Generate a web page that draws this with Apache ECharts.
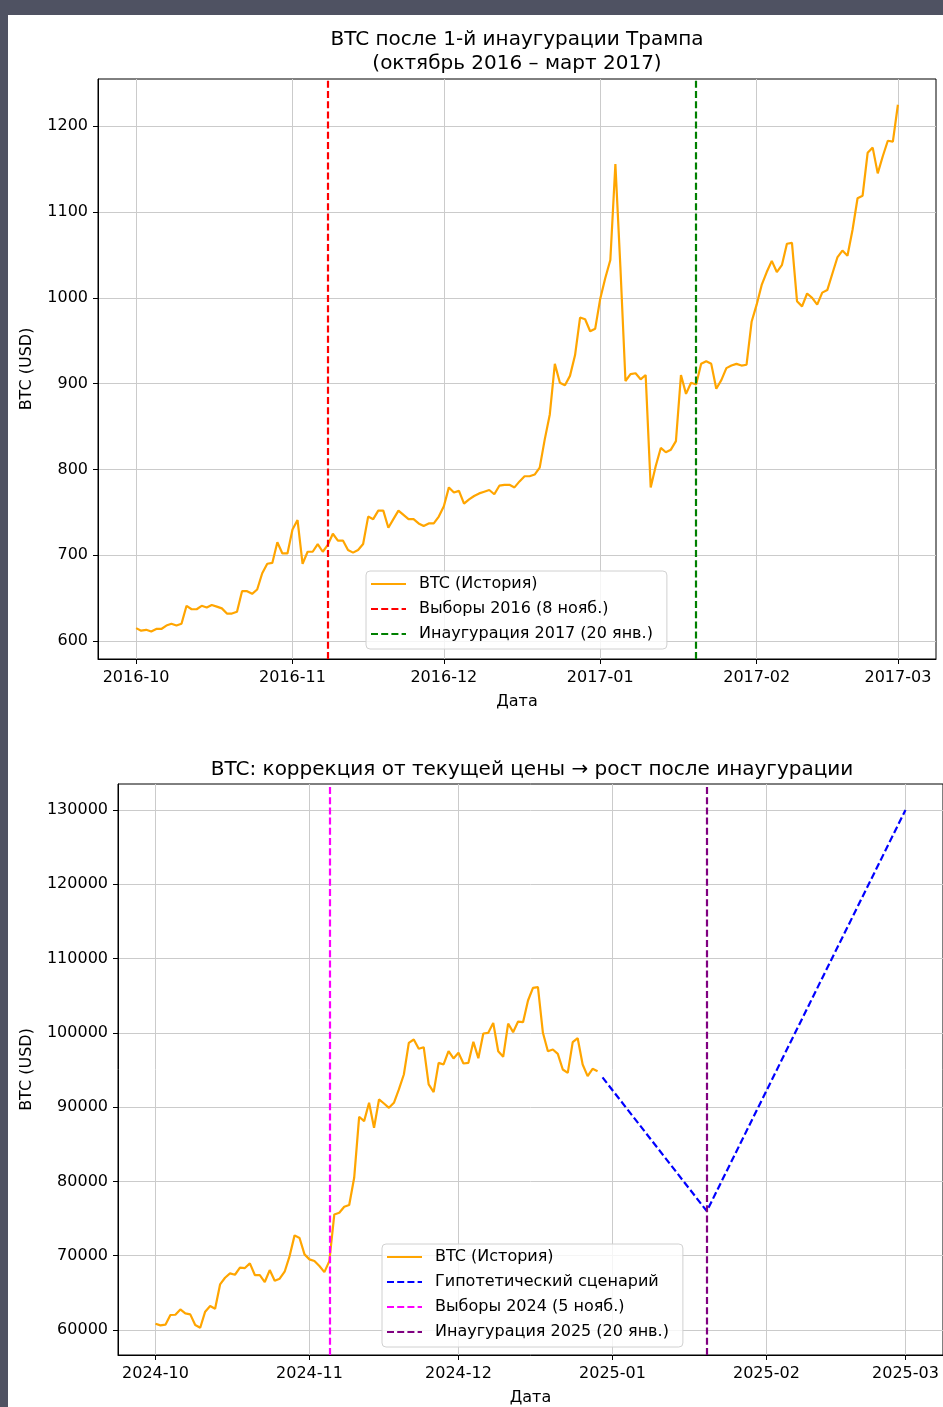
<!DOCTYPE html>
<html>
<head>
<meta charset="utf-8">
<title>BTC</title>
<script src="https://cdn.jsdelivr.net/npm/echarts@6/dist/echarts.min.js"></script>
<style>
html, body { margin: 0; padding: 0; background: #4f5262; }
#chart { position: absolute; left: 8px; top: 15px; width: 935px; height: 1392px; background: #fff; }
</style>
</head>
<body>
<div id="chart"></div>
<script>
// ---- данные: 2016/2017 (ежедневно с 1 окт. 2016 по 1 мар. 2017)
var start2016 = '2016-10-01';
var btc2016 = [
  615, 612, 613, 611, 614, 614, 618, 620, 618, 620,
  641, 637, 637, 641, 639, 642, 640, 638, 632, 632,
  634, 658, 658, 655, 660, 679, 690, 691, 715, 702,
  702, 730, 741, 690, 704, 704, 713, 704, 712, 725,
  717, 717, 706, 703, 706, 713, 745, 742, 752, 752,
  732, 742, 752, 747, 742, 742, 737, 734, 737, 737,
  745, 757, 779, 773, 775, 760, 765, 769, 772, 774,
  776, 771, 781, 782, 782, 779, 786, 792, 792, 794,
  802, 835, 864, 923, 901, 898, 909, 933, 977, 975,
  961, 964, 999, 1023, 1044, 1156, 1035, 903, 911, 912,
  905, 910, 779, 804, 825, 820, 823, 833, 910, 888,
  901, 899, 923, 926, 923, 894, 904, 918, 921, 923,
  921, 922, 972, 992, 1015, 1030, 1043, 1030, 1038, 1063,
  1064, 996, 990, 1005, 1000, 992, 1006, 1009, 1028, 1047,
  1055, 1049, 1079, 1116, 1119, 1169, 1175, 1145, 1165, 1183,
  1182, 1225
];
var election2016 = '2016-11-08';
var inaug2017 = '2017-01-20';
var ticks2016 = ['2016-10', '2016-11', '2016-12', '2017-01', '2017-02', '2017-03'];
var yTicks2016 = [600, 700, 800, 900, 1000, 1100, 1200];

// ---- данные: 2024/2025 (история с 1 окт. 2024 по 29 дек. 2024)
var start2024 = '2024-10-01';
var btc2024 = [
  60850, 60630, 60720, 62020, 62060, 62780, 62240, 62110, 60670, 60310,
  62470, 63230, 62870, 66140, 67040, 67620, 67440, 68390, 68340, 68970,
  67400, 67400, 66460, 68070, 66640, 66910, 67850, 69950, 72740, 72380,
  70180, 69510, 69280, 68610, 67800, 69280, 75560, 75780, 76590, 76820,
  80490, 88700, 88120, 90580, 87220, 91030, 90490, 89910, 90580, 92380,
  94390, 98650, 99100, 97850, 98070, 93050, 92020, 95960, 95740, 97530,
  96550, 97310, 95870, 95960, 98790, 96590, 99910, 100000, 101340, 97530,
  96770, 101250, 100090, 101520, 101430, 104350, 106050, 106140, 100000, 97530,
  97760, 97170, 95070, 94620, 98740, 99280, 95740, 94170, 95160, 94840
];
var scenarioDates = ['2024-12-30', '2025-01-20', '2025-03-01'];
var scenarioValues = [94000, 76000, 130000];
var election2024 = '2024-11-05';
var inaug2025 = '2025-01-20';
var ticks2024 = ['2024-10', '2024-11', '2024-12', '2025-01', '2025-02', '2025-03'];
var yTicks2024 = [60000, 70000, 80000, 90000, 100000, 110000, 120000, 130000];

var DAY = 86400000;
var FONT = 'DejaVu Sans';
var LW = 2.2;

function utc(s) {
  var p = s.split('-');
  return Date.UTC(+p[0], +p[1] - 1, p[2] ? +p[2] : 1);
}
function daily(start, values) {
  var t0 = utc(start);
  return values.map(function (v, i) { return [t0 + i * DAY, v]; });
}
function monthLabel(v) {
  var d = new Date(v);
  var m = d.getUTCMonth() + 1;
  return d.getUTCFullYear() + '-' + (m < 10 ? '0' + m : m);
}

var text = { fontFamily: FONT, fontSize: 16, color: '#000' };
var gridLine = { show: true, lineStyle: { color: '#cbcbcb', width: 1 } };

function xAxisFor(idx, ticks, first, last) {
  var vals = ticks.map(utc);
  var pad = (utc(last) - utc(first)) * 0.05;
  return {
    type: 'value', gridIndex: idx, scale: true,
    min: utc(first) - pad, max: utc(last) + pad,
    name: 'Дата', nameLocation: 'middle', nameGap: 35,
    nameTextStyle: text,
    axisLine: { onZero: false, lineStyle: { color: '#000', width: 1 } },
    axisTick: { show: true, length: 5, customValues: vals, lineStyle: { color: '#000' } },
    axisLabel: Object.assign({ customValues: vals, formatter: monthLabel, margin: 11 }, text),
    splitLine: gridLine
  };
}
function yAxisFor(idx, ticks, min, max, gap) {
  return {
    type: 'value', gridIndex: idx, min: min, max: max,
    name: 'BTC (USD)', nameLocation: 'middle', nameGap: gap, nameRotate: 90,
    nameTextStyle: text,
    axisLine: { show: true, onZero: false, lineStyle: { color: '#000', width: 1 } },
    axisTick: { show: true, length: 5, customValues: ticks, lineStyle: { color: '#000' } },
    axisLabel: Object.assign({ customValues: ticks, margin: 10, formatter: function (v) { return String(v); } }, text),
    splitLine: gridLine
  };
}
function vline(name, idx, date, color) {
  var ls = { color: color, width: LW, type: [7, 3.2] };
  return {
    name: name, type: 'line', xAxisIndex: idx, yAxisIndex: idx, data: [],
    symbol: 'none', lineStyle: ls, itemStyle: { color: color },
    markLine: {
      symbol: ['none', 'none'], silent: true, animation: false,
      label: { show: false }, lineStyle: ls, emphasis: { disabled: true },
      data: [{ xAxis: utc(date) }]
    }
  };
}
function legendAt(left, top, names) {
  return {
    data: names, orient: 'vertical', left: left, top: top,
    itemWidth: 35, itemHeight: 14, itemGap: 7,
    padding: [4, 14, 6, 4],
    itemStyle: { opacity: 0 },
    backgroundColor: 'rgba(255,255,255,0.8)', borderColor: '#d0d0d0', borderWidth: 1, borderRadius: 4,
    textStyle: { fontFamily: FONT, fontSize: 16, color: '#000', lineHeight: 18, padding: [0, 0, 0, 8] },
    selectedMode: false
  };
}

var chart = echarts.init(document.getElementById('chart'));
chart.setOption({
  animation: false,
  title: [
    {
      text: 'BTC после 1-й инаугурации Трампа\n(октябрь 2016 – март 2017)',
      left: 509, top: 13, textAlign: 'center', padding: 0,
      textStyle: { fontFamily: FONT, fontSize: 20, fontWeight: 'normal', color: '#000', lineHeight: 24 }
    },
    {
      text: 'BTC: коррекция от текущей цены → рост после инаугурации',
      left: 524, top: 743, textAlign: 'center', padding: 0,
      textStyle: { fontFamily: FONT, fontSize: 20, fontWeight: 'normal', color: '#000', lineHeight: 24 }
    }
  ],
  grid: [
    { left: 90, top: 64, width: 838, height: 580, show: true, borderColor: '#000', borderWidth: 1 },
    { left: 110, top: 769, width: 828.5, height: 572, show: true, borderColor: '#000', borderWidth: 1 }
  ],
  xAxis: [
    xAxisFor(0, ticks2016, start2016, '2017-03-01'),
    xAxisFor(1, ticks2024, start2024, scenarioDates[scenarioDates.length - 1])
  ],
  yAxis: [
    yAxisFor(0, yTicks2016, 579, 1255, 63),
    yAxisFor(1, yTicks2024, 56640, 133490, 83)
  ],
  legend: [
    legendAt(358, 556, ['BTC (История)', 'Выборы 2016 (8 нояб.)', 'Инаугурация 2017 (20 янв.)']),
    legendAt(374, 1229, ['BTC (История)', 'Гипотетический сценарий', 'Выборы 2024 (5 нояб.)', 'Инаугурация 2025 (20 янв.)'])
  ],
  series: [
    {
      name: 'BTC (История)', type: 'line', xAxisIndex: 0, yAxisIndex: 0,
      data: daily(start2016, btc2016), symbol: 'none',
      lineStyle: { color: '#ffa500', width: LW }, itemStyle: { color: '#ffa500' }
    },
    vline('Выборы 2016 (8 нояб.)', 0, election2016, '#ff0000'),
    vline('Инаугурация 2017 (20 янв.)', 0, inaug2017, '#008000'),
    {
      name: 'BTC (История)', type: 'line', xAxisIndex: 1, yAxisIndex: 1,
      data: daily(start2024, btc2024), symbol: 'none',
      lineStyle: { color: '#ffa500', width: LW }, itemStyle: { color: '#ffa500' }
    },
    {
      name: 'Гипотетический сценарий', type: 'line', xAxisIndex: 1, yAxisIndex: 1,
      data: scenarioDates.map(function (d, i) { return [utc(d), scenarioValues[i]]; }),
      symbol: 'none',
      lineStyle: { color: '#0000ff', width: LW, type: [7, 3.2] }, itemStyle: { color: '#0000ff' }
    },
    vline('Выборы 2024 (5 нояб.)', 1, election2024, '#ff00ff'),
    vline('Инаугурация 2025 (20 янв.)', 1, inaug2025, '#800080')
  ]
});
</script>
</body>
</html>
